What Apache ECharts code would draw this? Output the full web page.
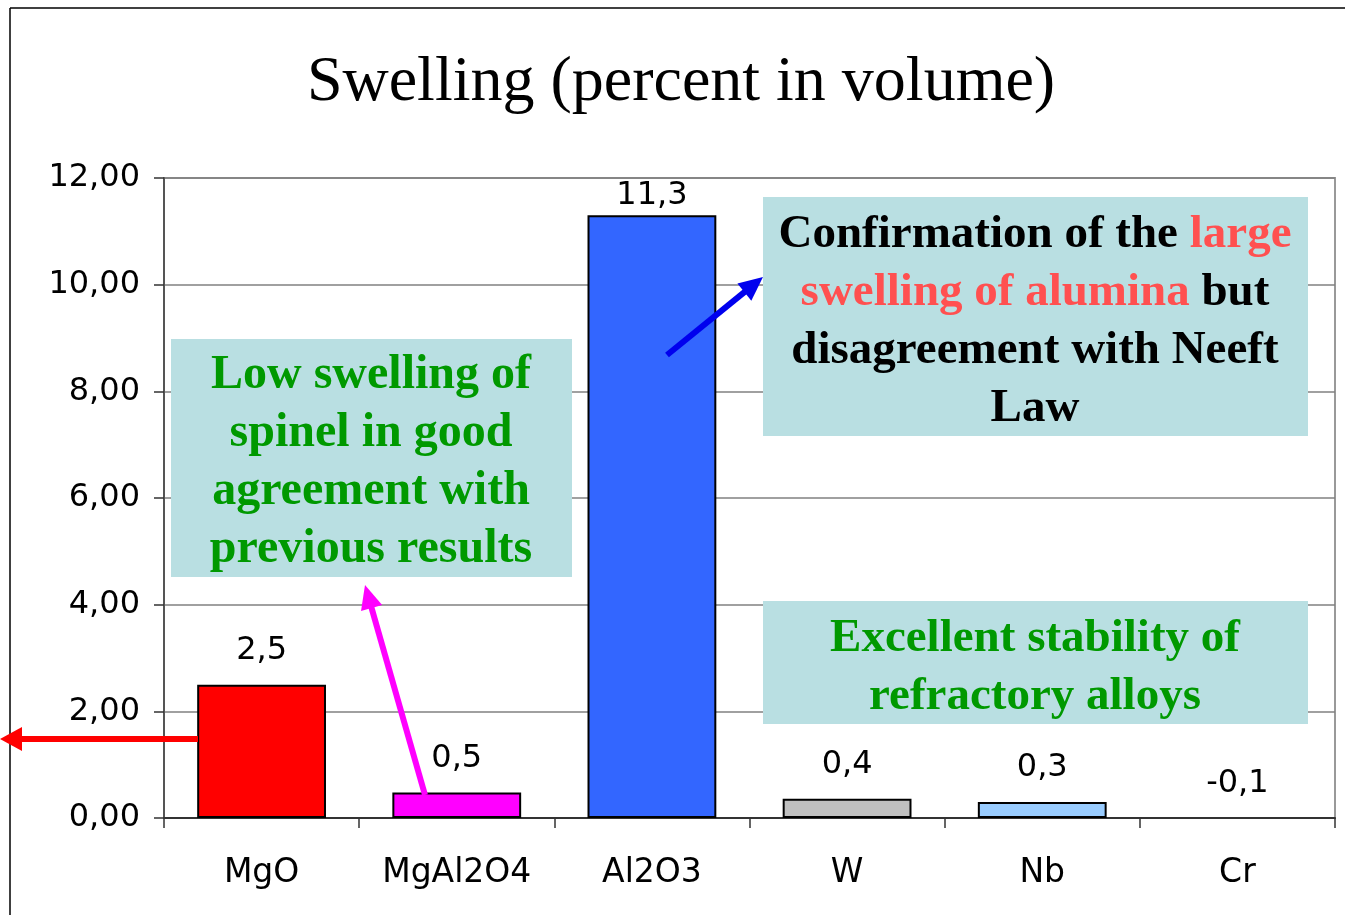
<!DOCTYPE html>
<html>
<head>
<meta charset="utf-8">
<script src="https://cdn.jsdelivr.net/npm/echarts@6/dist/echarts.min.js"></script>
<style>
html,body{margin:0;padding:0;background:#fff;}
#chart{width:1345px;height:915px;}
</style>
</head>
<body>
<div id="chart"></div>
<script>
// ---- data ----
var categories = ['MgO', 'MgAl2O4', 'Al2O3', 'W', 'Nb', 'Cr'];
var swelling = [2.5, 0.48, 11.3, 0.36, 0.3, -0.1];
var barColors = ['#FF0000', '#FF00FF', '#3366FF', '#C0C0C0', '#99CCFF', 'rgba(0,0,0,0)'];
var yTicks = { min: 0, max: 12, interval: 2 };
var titleText = 'Swelling (percent in volume)';

function fmt1(v) { return v.toFixed(1).replace('.', ','); }
function fmt2(v) { return v.toFixed(2).replace('.', ','); }

var chart = echarts.init(document.getElementById('chart'));

function arrow(x1, y1, x2, y2, color, w, hl, hh) {
  var dx = x2 - x1, dy = y2 - y1, L = Math.sqrt(dx * dx + dy * dy);
  var ux = dx / L, uy = dy / L, px = -uy, py = ux;
  var bx = x2 - ux * hl, by = y2 - uy * hl;
  return [
    { type: 'line', shape: { x1: x1, y1: y1, x2: bx + ux * 2, y2: by + uy * 2 }, style: { stroke: color, lineWidth: w }, z: 100 },
    { type: 'polygon', shape: { points: [[x2, y2], [bx + px * hh, by + py * hh], [bx - px * hh, by - py * hh]] }, style: { fill: color }, z: 100 }
  ];
}

var boxFill = '#B9DFE2';
var green = '#009900';
var serif = '"Liberation Serif", "Times New Roman", serif';
var sans = '"DejaVu Sans", "Liberation Sans", Arial, sans-serif';

var graphics = [
  // outer frame lines
  { type: 'line', shape: { x1: 10, y1: 8, x2: 1345, y2: 8 }, style: { stroke: '#000', lineWidth: 1.5 } },
  { type: 'line', shape: { x1: 10, y1: 8, x2: 10, y2: 915 }, style: { stroke: '#000', lineWidth: 1.5 } },
  // box 1
  { type: 'rect', shape: { x: 171, y: 339, width: 401, height: 238 }, style: { fill: boxFill }, z: 50 },
  { type: 'text', x: 371, y: 463, z: 51, style: {
      text: 'Low swelling of\nspinel in good\nagreement with\nprevious results',
      fill: green, align: 'center', verticalAlign: 'middle', lineHeight: 58,
      fontFamily: serif, fontWeight: 'bold', fontSize: 48 } },
  // box 2
  { type: 'rect', shape: { x: 763, y: 197, width: 545, height: 239 }, style: { fill: boxFill }, z: 50 },
  { type: 'text', x: 1035, y: 322, z: 51, style: {
      text: 'Confirmation of the {r|large}\n{r|swelling of alumina} but\ndisagreement with Neeft\nLaw',
      fill: '#000', align: 'center', verticalAlign: 'middle', lineHeight: 58,
      fontFamily: serif, fontWeight: 'bold', fontSize: 47,
      rich: { r: { fill: '#FF5050', fontFamily: serif, fontWeight: 'bold', fontSize: 47, lineHeight: 58 } } } },
  // box 3
  { type: 'rect', shape: { x: 763, y: 601, width: 545, height: 123 }, style: { fill: boxFill }, z: 50 },
  { type: 'text', x: 1035, y: 668, z: 51, style: {
      text: 'Excellent stability of\nrefractory alloys',
      fill: green, align: 'center', verticalAlign: 'middle', lineHeight: 58,
      fontFamily: serif, fontWeight: 'bold', fontSize: 47 } }
];
graphics = graphics.concat(arrow(198, 739, 0, 739, '#FF0000', 6, 22, 12));
graphics = graphics.concat(arrow(425, 795, 365, 585, '#FF00FF', 6, 24, 11));
graphics = graphics.concat(arrow(667, 355, 763, 277, '#0000EE', 6, 24, 11));

var data = swelling.map(function (v, i) {
  var item = {
    value: v,
    itemStyle: { color: barColors[i], borderColor: i === 5 ? 'rgba(0,0,0,0)' : '#000', borderWidth: i === 5 ? 0 : 2 }
  };
  if (categories[i] === 'Al2O3') item.label = { distance: 4 };
  return item;
});

var option = {
  animation: false,
  backgroundColor: '#fff',
  title: {
    text: titleText, left: 676, top: 46, textAlign: 'center',
    textStyle: { fontFamily: serif, fontWeight: 'normal', fontSize: 64, color: '#000' }
  },
  grid: { left: 164, right: 10, top: 178, bottom: 97, show: true, borderColor: '#999', borderWidth: 2 },
  xAxis: {
    type: 'category', data: categories,
    axisLine: { lineStyle: { color: '#333', width: 2 } },
    axisTick: { show: true, length: 10, lineStyle: { color: '#333', width: 1.5 } },
    axisLabel: { color: '#000', fontFamily: sans, fontSize: 33, margin: 39 },
    splitLine: { show: false }
  },
  yAxis: {
    type: 'value', min: yTicks.min, max: yTicks.max, interval: yTicks.interval,
    axisLine: { show: true, lineStyle: { color: '#555', width: 2 } },
    axisTick: { show: true, length: 10, lineStyle: { color: '#333', width: 1.5 } },
    axisLabel: { color: '#000', fontFamily: sans, fontSize: 32, margin: 24, padding: [6, 0, 0, 0], formatter: fmt2 },
    splitLine: { show: true, lineStyle: { color: '#808080', width: 1.5 } }
  },
  series: [{
    type: 'bar', data: data, barCategoryGap: '34%',
    label: {
      show: true, position: 'top', distance: 18, color: '#000',
      fontFamily: sans, fontSize: 32,
      formatter: function (p) { return fmt1(p.value); }
    }
  }],
  graphic: graphics
};
chart.setOption(option);
</script>
</body>
</html>
